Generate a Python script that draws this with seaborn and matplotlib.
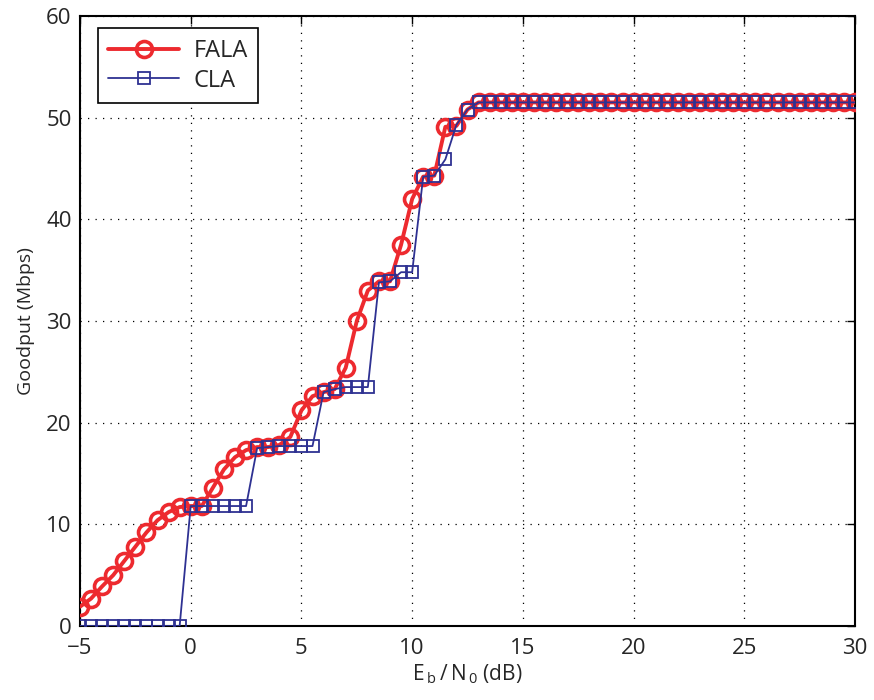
import numpy as np
import pandas as pd
import matplotlib
matplotlib.use("Agg")
import matplotlib.pyplot as plt
import seaborn as sns

# Eb/N0 grid in dB (0.5 dB steps)
ebn0 = np.arange(-5, 30.5, 0.5)

# Goodput (Mbps) for the fast link adaptation scheme
fala_head = [1.9, 2.7, 3.9, 5.0, 6.4, 7.8, 9.2, 10.4, 11.2, 11.7,
             11.8, 11.8, 13.6, 15.4, 16.6, 17.3, 17.6, 17.6, 17.8, 18.6,
             21.2, 22.6, 23.0, 23.3, 25.4, 30.0, 33.0, 33.9, 33.9, 37.5,
             42.0, 44.2, 44.3, 49.1, 49.2, 50.8]
# Goodput (Mbps) for the conventional link adaptation scheme
cla_head = [0.0, 0.0, 0.0, 0.0, 0.0, 0.0, 0.0, 0.0, 0.0, 0.0,
            11.8, 11.8, 11.8, 11.8, 11.8, 11.8, 17.5, 17.6, 17.7, 17.7,
            17.7, 17.7, 23.0, 23.3, 23.5, 23.5, 23.5, 33.8, 33.9, 34.8,
            34.8, 44.2, 44.3, 45.9, 49.3, 50.8]
saturation = 51.5
n_tail = len(ebn0) - len(fala_head)
fala = fala_head + [saturation] * n_tail
cla = cla_head + [saturation] * n_tail

series_names = ["FALA", "CLA"]
x_ticks = [-5, 0, 5, 10, 15, 20, 25, 30]
y_ticks = [0, 10, 20, 30, 40, 50, 60]

df = pd.DataFrame({"ebn0": ebn0, "FALA": fala, "CLA": cla})

sns.set_style("white")
plt.rcParams["font.family"] = ["Open Sans", "DejaVu Sans"]
plt.rcParams["mathtext.fontset"] = "custom"
plt.rcParams["mathtext.rm"] = "Open Sans"

red = "#ED2A2F"
blue = "#2E3192"

fig = plt.figure(figsize=(8.74, 7.0), dpi=100)
ax = fig.add_axes([80 / 874, 1 - 626 / 700, 775 / 874, 610 / 700])

sns.lineplot(data=df, x="ebn0", y="FALA", ax=ax, color=red, linewidth=2.8,
             marker="o", markersize=11.5, markerfacecolor="none",
             markeredgecolor=red, markeredgewidth=2.6, label=series_names[0],
             zorder=3)
sns.lineplot(data=df, x="ebn0", y="CLA", ax=ax, color=blue, linewidth=1.3,
             marker="s", markersize=9, markerfacecolor="none",
             markeredgecolor=blue, markeredgewidth=1.3, label=series_names[1],
             zorder=4)

ax.set_xlim(-5, 30)
ax.set_ylim(0, 60)
ax.set_xticks(x_ticks)
ax.set_yticks(y_ticks)
ax.set_xticklabels(["\u22125" if t < 0 else str(t) for t in x_ticks])
ax.tick_params(axis="both", which="major", direction="in", length=6,
               width=1.0, labelsize=16, top=True, right=True, color="black")
ax.tick_params(axis="x", pad=9)
ax.tick_params(axis="y", pad=6)
ax.grid(True, linestyle=(0, (1, 5)), color="black", linewidth=0.9)
for s in ax.spines.values():
    s.set_color("black")
    s.set_linewidth(1.5)

ax.set_xlabel(r"$\mathregular{E_{\,b}\,/\,N_{\,0}}$ (dB)", fontsize=15,
              labelpad=2)
ax.set_ylabel("Goodput (Mbps)", fontsize=14, labelpad=8)

leg = ax.legend(loc="upper left", bbox_to_anchor=(0.023, 0.98),
                borderaxespad=0, fancybox=False, frameon=True, fontsize=17,
                handlelength=3.0, edgecolor="black", framealpha=1,
                borderpad=0.45, labelspacing=0.25, handletextpad=0.6)
leg.get_frame().set_linewidth(1.2)

fig.savefig("out.png", dpi=100)
